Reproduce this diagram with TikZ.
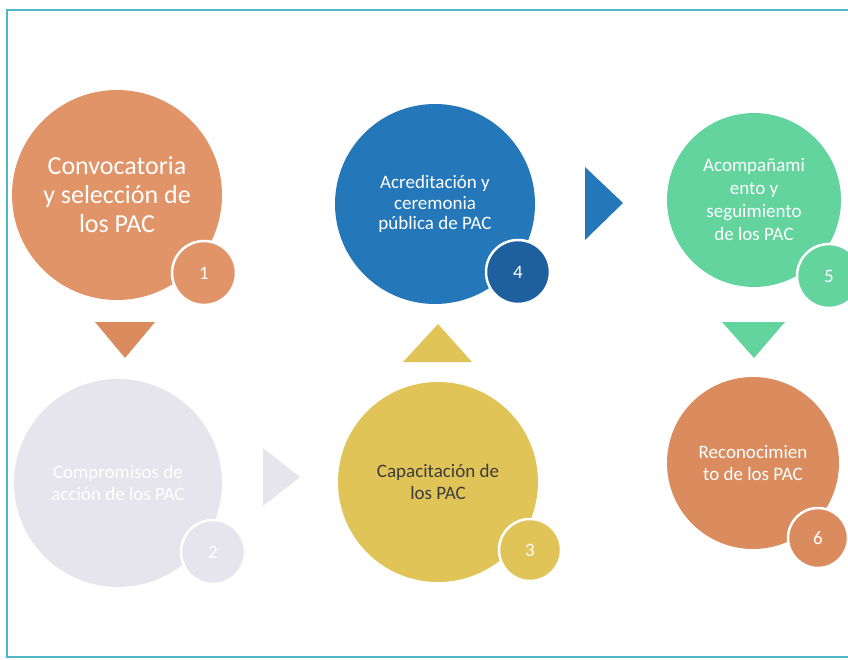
\documentclass[tikz,border=0pt]{standalone}
\usepackage{fontspec}
\setmainfont{Carlito}
\usetikzlibrary{positioning,calc}

\definecolor{framecol}{HTML}{4FB8C8}
\definecolor{orangeA}{HTML}{E09468}
\definecolor{grayB}{HTML}{E6E4EC}
\definecolor{yellowC}{HTML}{E1C458}
\definecolor{blueD}{HTML}{2477B8}
\definecolor{blueDd}{HTML}{1E5F9E}
\definecolor{greenE}{HTML}{63D49D}
\definecolor{orangeF}{HTML}{DA8C5F}
\definecolor{textC}{HTML}{3C3C3C}

\begin{document}
\begin{tikzpicture}[x=1pt,y=-1pt,
  stepcirc/.style={circle, inner sep=0pt, align=center, text=white,
    font=\fontsize{19}{22}\selectfont},
  numcirc/.style={circle, draw=white, line width=2.5pt, inner sep=0pt,
    minimum size=64pt, text=white, font=\fontsize{19}{19}\selectfont}]
\useasboundingbox (0,0) rectangle (848,660);
\draw[framecol, line width=1.5pt] (850,10) -- (7,10) -- (7,657) -- (850,657);

% steps
\node[stepcirc, fill=orangeA, minimum size=210pt,
  font=\fontsize{26}{29}\selectfont] (c1) at (117,195)
  {Convocatoria\\y selección de\\los PAC};
\node[numcirc, fill=orangeA] (n1) at ($(c1)+(87,78)$) {1};

\node[stepcirc, fill=grayB, minimum size=208pt] (c2) at (118,483)
  {Compromisos de\\acción de los PAC};
\node[numcirc, fill=grayB] (n2) at ($(c2)+(95,69)$) {2};

\node[stepcirc, fill=yellowC, minimum size=200pt, text=textC] (c3) at (438,482)
  {Capacitación de\\los PAC};
\node[numcirc, fill=yellowC, minimum size=62pt] (n3) at ($(c3)+(92,68)$) {3};

\node[stepcirc, fill=blueD, minimum size=200pt,
  font=\fontsize{19}{20.5}\selectfont] (c4) at (435,204)
  {Acreditación y\\ceremonia\\pública de PAC};
\node[numcirc, fill=blueDd] (n4) at ($(c4)+(83,68)$) {4};

\node[stepcirc, fill=greenE, minimum size=174pt,
  font=\fontsize{19}{23}\selectfont] (c5) at (754,200)
  {Acompañami\\ento y\\seguimiento\\de los PAC};
\node[numcirc, fill=greenE] (n5) at ($(c5)+(75,76)$) {5};

\node[stepcirc, fill=orangeF, minimum size=172pt] (c6) at (753,463)
  {Reconocimien\\to de los PAC};
\node[numcirc, fill=orangeF, minimum size=60pt] (n6) at ($(c6)+(65,75)$) {6};

% arrows between steps
\fill[orangeF] (95,322) -- (155,322) -- (125,358) -- cycle;
\fill[grayB] (263,448) -- (300,477) -- (263,506) -- cycle;
\fill[yellowC] (403,362) -- (472,362) -- (438,324) -- cycle;
\fill[blueD] (585,167) -- (623,203) -- (585,240) -- cycle;
\fill[greenE] (722,322) -- (785,322) -- (754,358) -- cycle;
\end{tikzpicture}
\end{document}
